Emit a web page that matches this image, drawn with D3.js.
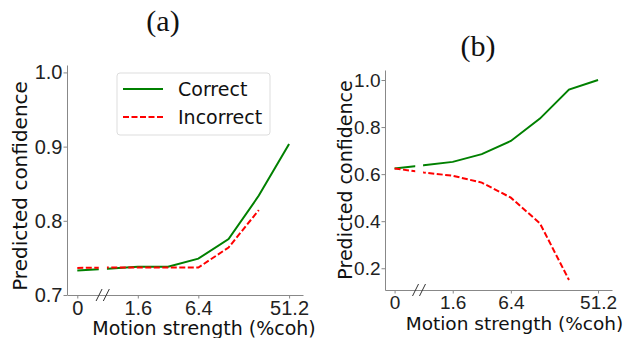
<!DOCTYPE html>
<html>
<head>
<meta charset="utf-8">
<script src="https://cdnjs.cloudflare.com/ajax/libs/d3/7.8.5/d3.min.js"></script>
<style>
  body { margin: 0; background: #fff; }
  svg { display: block; font-family: "DejaVu Sans", sans-serif; }
  .axis path, .axis line { stroke: #888; }
  .axis text { fill: #222; }
  .title { font-family: "Liberation Serif", "Times New Roman", serif; fill: #111; }
</style>
</head>
<body>
<svg id="chart" width="626" height="338"></svg>
<script>
// motion coherence levels, plotted at equal spacing (index)
const categories = ["0", "0.8", "1.6", "3.2", "6.4", "12.8", "25.6", "51.2"];
const xTickLabels = ["0", "1.6", "6.4", "51.2"];

// panel (a)
const aCorrect = [0.733, 0.7355, 0.738, 0.738, 0.749, 0.7755, 0.834, 0.9035];
const aIncorrect = [0.7365, 0.737, 0.737, 0.737, 0.737, 0.764, 0.8145];
const aYTicks = [0.7, 0.8, 0.9, 1.0];

// panel (b)
const bCorrect = [0.624, 0.638, 0.652, 0.685, 0.741, 0.836, 0.959, 1.0];
const bIncorrect = [0.624, 0.607, 0.593, 0.564, 0.50, 0.391, 0.15];
const bYTicks = [0.2, 0.4, 0.6, 0.8, 1.0];

const seriesNames = ["Correct", "Incorrect"];

const svg = d3.select("#chart");

function drawPanel(opt) {
  const g = svg.append("g")
    .attr("transform", `translate(${opt.left}, ${opt.top})`);

  const x = d3.scaleLinear().domain(opt.xDomain).range([0, opt.width]);
  const y = d3.scaleLinear().domain(opt.yDomain).range([opt.height, 0]);

  const line = d3.line()
    .x((d, i) => x(i))
    .y(d => y(d));

  g.append("path")
    .datum(opt.correct)
    .attr("fill", "none")
    .attr("stroke", "green")
    .attr("stroke-width", 2)
    .attr("d", line);

  g.append("path")
    .datum(opt.incorrect)
    .attr("fill", "none")
    .attr("stroke", "red")
    .attr("stroke-width", 2)
    .attr("stroke-dasharray", "6,2.5")
    .attr("d", line);

  // axis break between 0 and 0.8: blank out the lines there
  g.append("rect")
    .attr("x", x(0.71))
    .attr("y", 0)
    .attr("width", x(0.98) - x(0.71))
    .attr("height", opt.height - 1)
    .attr("fill", "#fff");

  const tickIdx = xTickLabels.map(t => categories.indexOf(t));
  const xAxis = g.append("g")
    .attr("class", "axis x")
    .attr("transform", `translate(0, ${opt.height})`)
    .call(d3.axisBottom(x).tickValues(tickIdx)
      .tickFormat(i => categories[i]).tickSize(3.5).tickPadding(2).tickSizeOuter(0));
  xAxis.selectAll("text").style("font-size", opt.tickFont + "px");

  const yAxis = g.append("g")
    .attr("class", "axis y")
    .call(d3.axisLeft(y).tickValues(opt.yTicks)
      .tickFormat(d3.format(".1f")).tickSize(3.5).tickPadding(1).tickSizeOuter(0));
  yAxis.selectAll("text").style("font-size", opt.tickFont + "px");

  // the // break marks on the x axis
  [0.72, 0.96].forEach(i => {
    g.append("line")
      .attr("x1", x(i) - 3).attr("y1", opt.height + 6)
      .attr("x2", x(i) + 3).attr("y2", opt.height - 6)
      .attr("stroke", "#333")
      .attr("stroke-width", 1);
  });

  g.append("text")
    .attr("text-anchor", "middle")
    .attr("x", opt.width / 2 + opt.xLabelShift)
    .attr("y", opt.height + opt.xLabelDy)
    .attr("fill", "#111")
    .style("font-size", opt.xLabelFont + "px")
    .text("Motion strength (%coh)");

  g.append("text")
    .attr("text-anchor", "middle")
    .attr("transform", `translate(${opt.yLabelX}, ${opt.yLabelY}) rotate(-90)`)
    .attr("fill", "#111")
    .style("font-size", opt.yLabelFont + "px")
    .text("Predicted confidence");

  svg.append("text")
    .attr("class", "title")
    .attr("text-anchor", "middle")
    .attr("x", opt.titleX)
    .attr("y", opt.titleY)
    .style("font-size", "30px")
    .text(opt.title);

  return { g, x, y };
}

const pa = drawPanel({
  left: 67, top: 65, width: 236, height: 230,
  xDomain: [-0.34, 7.46], yDomain: [0.7, 1.01],
  correct: aCorrect, incorrect: aIncorrect, yTicks: aYTicks,
  tickFont: 20, xLabelFont: 19, yLabelFont: 20,
  xLabelShift: 19, xLabelDy: 40,
  yLabelX: -40, yLabelY: 121,
  title: "(a)", titleX: 163, titleY: 31
});

drawPanel({
  left: 385, top: 70, width: 227, height: 220,
  xDomain: [-0.33, 7.48], yDomain: [0.1075, 1.0425],
  correct: bCorrect, incorrect: bIncorrect, yTicks: bYTicks,
  tickFont: 19, xLabelFont: 18.5, yLabelFont: 19,
  xLabelShift: 16, xLabelDy: 40,
  yLabelX: -33, yLabelY: 110,
  title: "(b)", titleX: 478, titleY: 56
});

// legend in panel (a)
const legend = pa.g.append("g").attr("transform", "translate(50, 8)");
legend.append("rect")
  .attr("width", 153).attr("height", 62)
  .attr("rx", 3)
  .attr("fill", "#fff")
  .attr("stroke", "#ddd");
const legendItems = legend.selectAll(".item")
  .data(seriesNames)
  .enter()
  .append("g")
  .attr("class", "item")
  .attr("transform", (d, i) => `translate(6, ${16 + i * 28})`);
legendItems.append("line")
  .attr("x1", 0).attr("x2", 40)
  .attr("stroke", (d, i) => i === 0 ? "green" : "red")
  .attr("stroke-width", 2)
  .attr("stroke-dasharray", (d, i) => i === 0 ? null : "6,2.5");
legendItems.append("text")
  .attr("x", 55)
  .attr("dy", "0.35em")
  .style("font-size", "19px")
  .attr("fill", "#111")
  .text(d => d);
</script>
</body>
</html>
